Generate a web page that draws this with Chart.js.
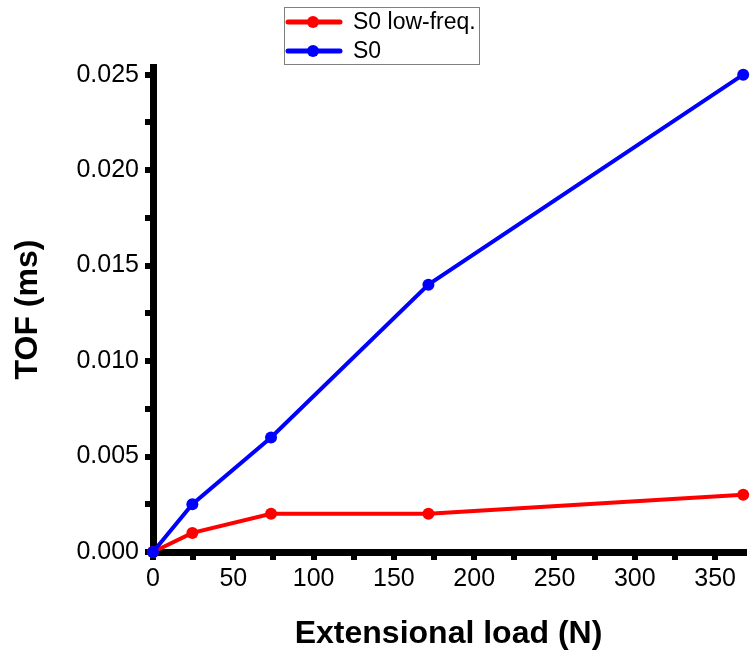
<!DOCTYPE html>
<html>
<head>
<meta charset="utf-8">
<script src="https://cdn.jsdelivr.net/npm/chart.js@4.4.0/dist/chart.umd.min.js"></script>
<style>
  body { margin: 0; background: #fff; }
  #wrap { width: 750px; height: 650px; }
</style>
</head>
<body>
<div id="wrap"><canvas id="tofChart"></canvas></div>
<script>
// data
const loads = [0, 24.5, 73.5, 171.5, 367.5];
const tofLowFreq = [0, 0.001, 0.002, 0.002, 0.003];
const tofS0 = [0, 0.0025, 0.006, 0.014, 0.025];

const xTicks = [0, 25, 50, 75, 100, 125, 150, 175, 200, 225, 250, 275, 300, 325, 350];
const yTicks = [0, 0.0025, 0.005, 0.0075, 0.01, 0.0125, 0.015, 0.0175, 0.02, 0.0225, 0.025];

const seriesNames = ['S0 low-freq.', 'S0'];
const seriesColors = ['#ff0000', '#0000ff'];

const font = 'Liberation Sans, Arial, sans-serif';

// legend with a line + dot marker and a thin grey frame
const boxLegend = {
    id: 'boxLegend',
    afterDraw(chart) {
        const ctx = chart.ctx;
        const x0 = 284, y0 = 7, w = 195, h = 57;
        ctx.save();
        ctx.strokeStyle = '#808080';
        ctx.lineWidth = 1;
        ctx.strokeRect(x0 + 0.5, y0 + 0.5, w, h);
        ctx.font = '23px ' + font;
        ctx.textBaseline = 'middle';
        chart.data.datasets.forEach((ds, i) => {
            const y = 22 + i * 29;
            ctx.strokeStyle = ds.borderColor;
            ctx.lineWidth = 5;
            ctx.lineCap = 'round';
            ctx.beginPath();
            ctx.moveTo(288, y);
            ctx.lineTo(340, y);
            ctx.stroke();
            ctx.fillStyle = ds.borderColor;
            ctx.beginPath();
            ctx.arc(313, y, 6, 0, Math.PI * 2);
            ctx.fill();
            ctx.fillStyle = '#000';
            ctx.fillText(ds.label, 353, y + 1);
        });
        ctx.restore();
    }
};

function makeSeries(i, values) {
    return {
        label: seriesNames[i],
        data: loads.map((x, k) => ({ x: x, y: values[k] })),
        borderColor: seriesColors[i],
        backgroundColor: seriesColors[i],
        borderWidth: 4,
        pointRadius: 6,
        pointHoverRadius: 6,
        pointBorderWidth: 0,
        tension: 0,
        clip: false
    };
}

const ctx = document.getElementById('tofChart').getContext('2d');
new Chart(ctx, {
    type: 'line',
    data: {
        datasets: [
            Object.assign(makeSeries(0, tofLowFreq), { order: 1 }),
            Object.assign(makeSeries(1, tofS0), { order: 0 })
        ]
    },
    options: {
        responsive: true,
        maintainAspectRatio: false,
        animation: false,
        layout: { padding: { top: 67, left: 9, right: 0, bottom: 0 } },
        plugins: {
            legend: { display: false },
            tooltip: { enabled: false }
        },
        scales: {
            x: {
                type: 'linear',
                min: 0,
                max: 368,
                afterBuildTicks: axis => { axis.ticks = xTicks.map(v => ({ value: v })); },
                afterFit: axis => { axis.height = 98; },
                ticks: {
                    autoSkip: false,
                    maxRotation: 0,
                    color: '#000',
                    font: { family: font, size: 25 },
                    padding: 4,
                    callback: v => (v % 50 === 0 ? String(v) : '')
                },
                grid: {
                    drawOnChartArea: false,
                    drawTicks: true,
                    tickLength: 8,
                    lineWidth: 6,
                    color: '#000'
                },
                border: { display: true, width: 7, color: '#000' },
                title: {
                    display: true,
                    text: 'Extensional load (N)',
                    color: '#000',
                    font: { family: font, size: 32, weight: 'bold' },
                    padding: { top: 0, bottom: -3 }
                }
            },
            y: {
                type: 'linear',
                min: 0,
                max: 0.0254,
                afterBuildTicks: axis => { axis.ticks = yTicks.map(v => ({ value: v })); },
                afterFit: axis => { axis.width = 144; },
                ticks: {
                    autoSkip: false,
                    color: '#000',
                    font: { family: font, size: 25 },
                    padding: 6,
                    callback: (v, i) => (i % 2 === 0 ? v.toFixed(3) : '')
                },
                grid: {
                    drawOnChartArea: false,
                    drawTicks: true,
                    tickLength: 8,
                    lineWidth: 6,
                    color: '#000'
                },
                border: { display: true, width: 7, color: '#000' },
                title: {
                    display: true,
                    text: 'TOF (ms)',
                    color: '#000',
                    font: { family: font, size: 32, weight: 'bold' },
                    padding: { top: 0, bottom: 0 }
                }
            }
        }
    },
    plugins: [boxLegend]
});
</script>
</body>
</html>
